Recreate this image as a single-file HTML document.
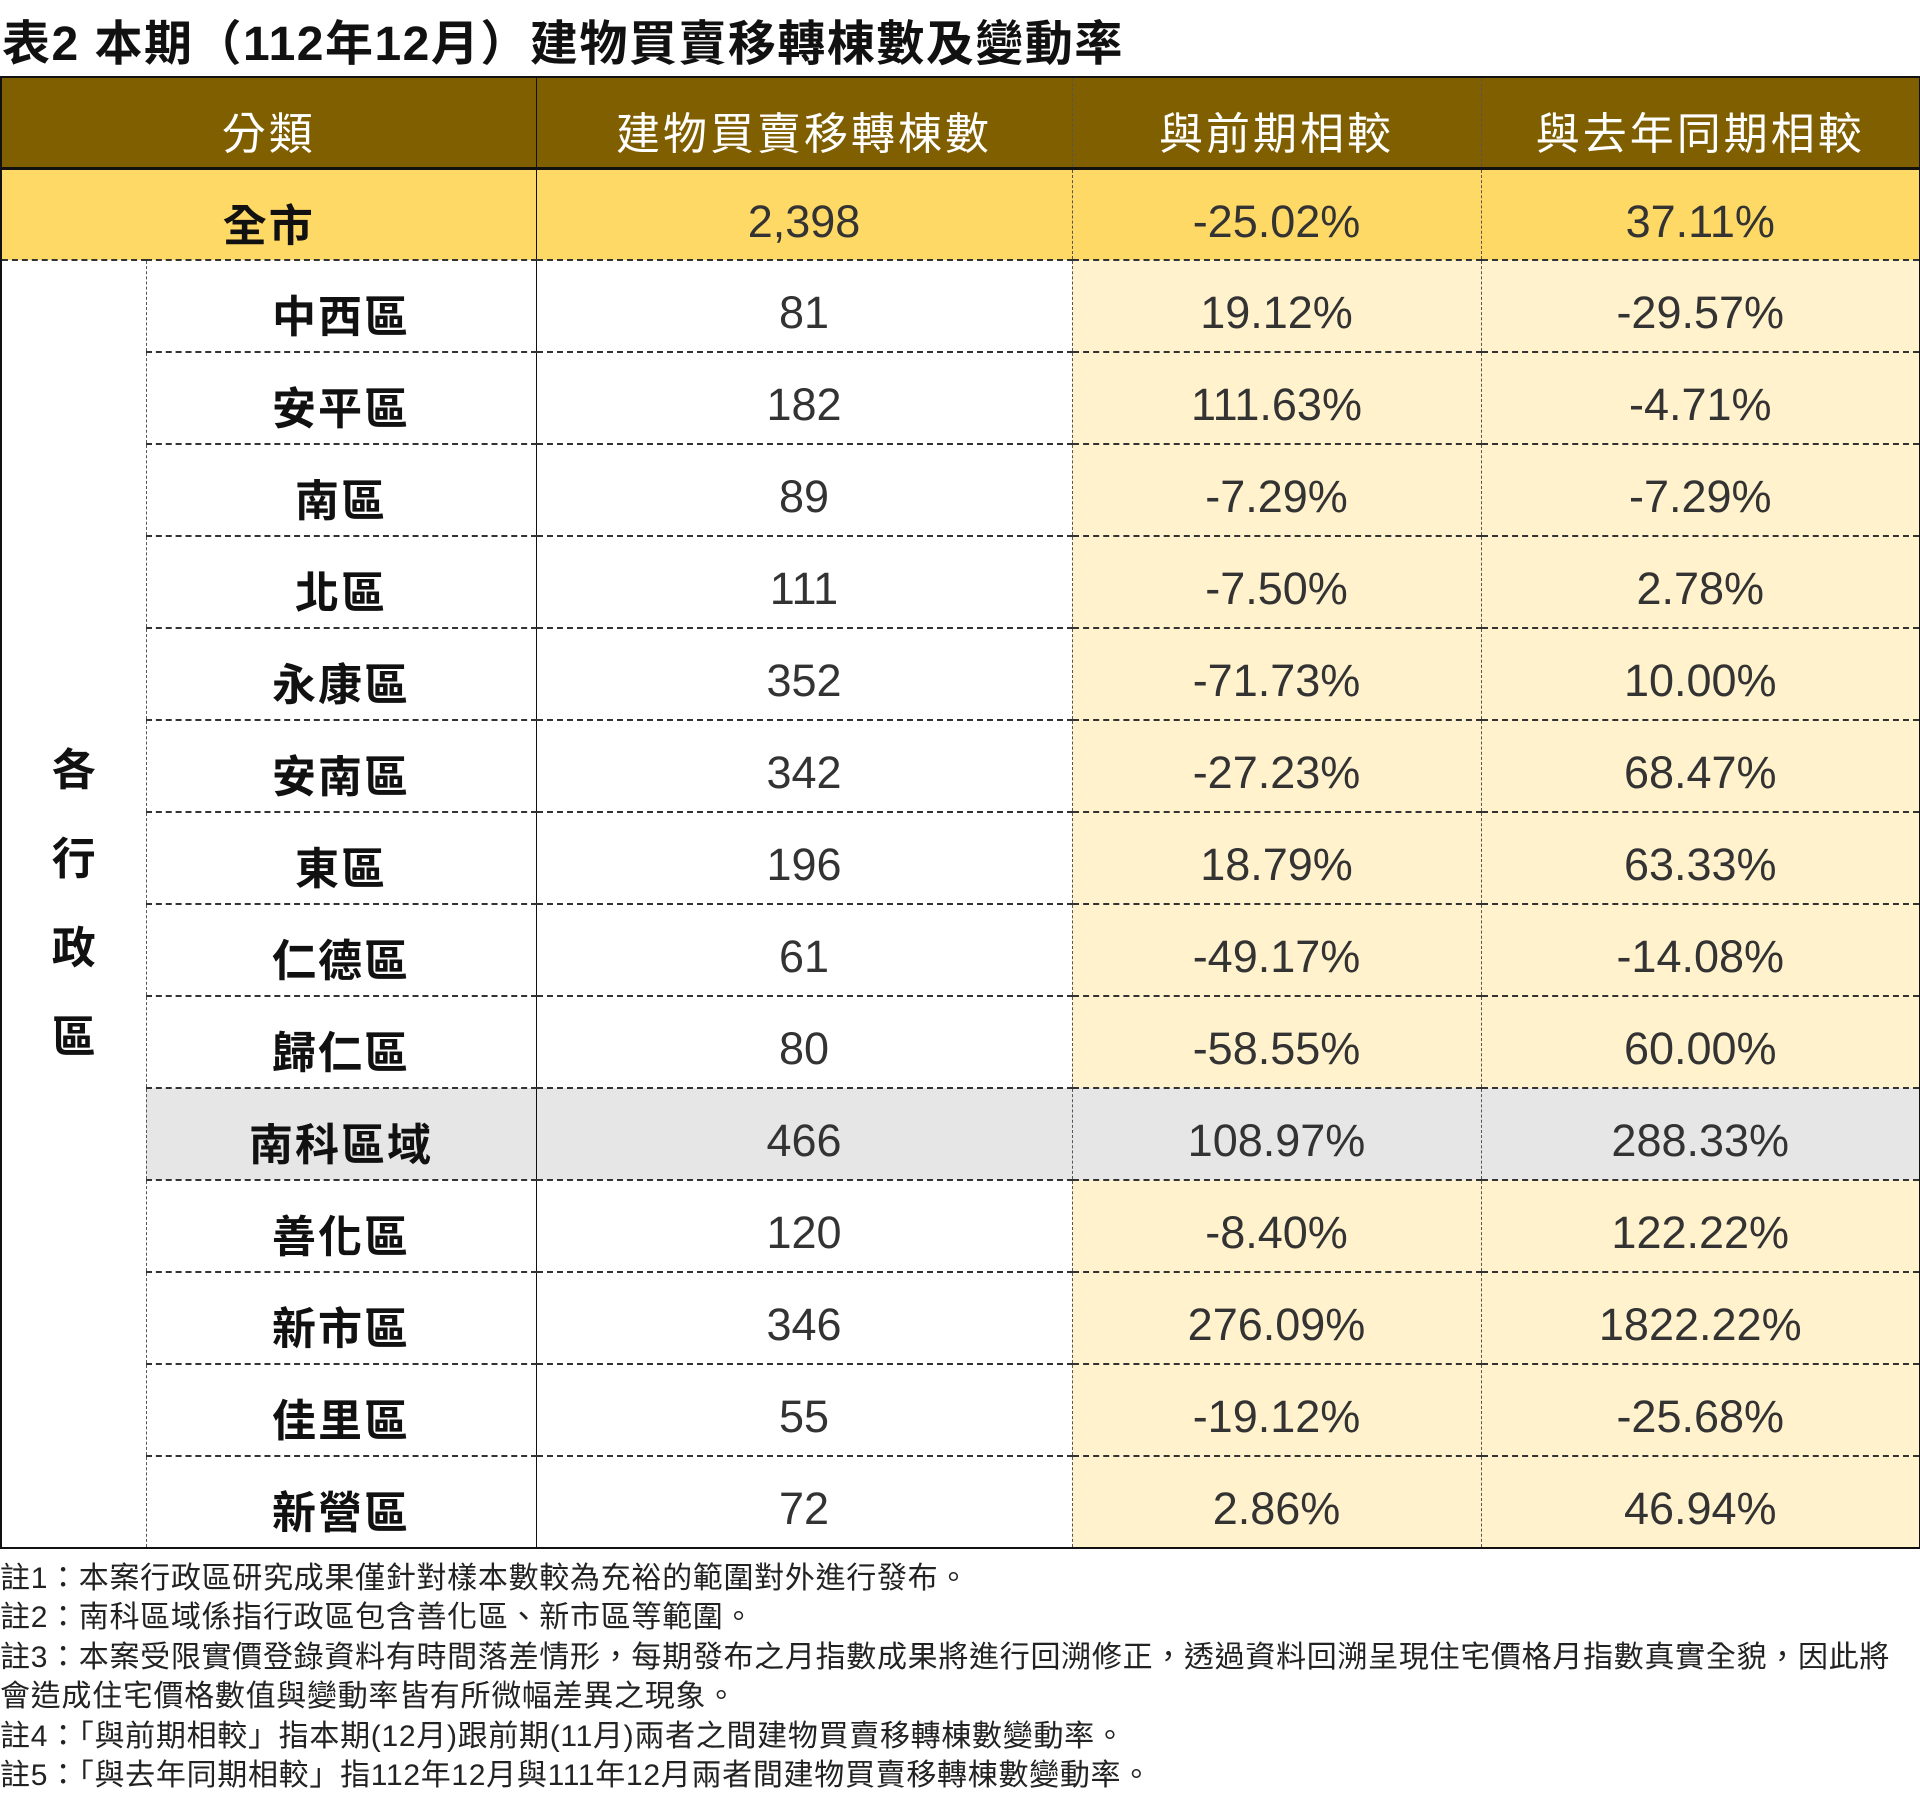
<!DOCTYPE html>
<html><head><meta charset="utf-8"><style>
body{margin:0;width:1920px;height:1793px;background:#fff;position:relative;overflow:hidden;font-family:"Liberation Sans","Noto Sans CJK TC",sans-serif}
.t{position:absolute;left:2px;top:4px;font-size:48px;font-weight:bold;color:#111;white-space:nowrap;letter-spacing:1.5px}
table{position:absolute;left:0;top:76px;border-collapse:collapse;table-layout:fixed}
td{padding:14px 0 0 0;text-align:center;font-size:45px;color:#333;border-bottom:2px dashed #333;border-left:1.5px dashed #555;height:76px;font-family:"Liberation Sans","Noto Sans CJK TC",sans-serif}
td.n{font-weight:bold;color:#111;font-size:44px;letter-spacing:2px}
td.c1{border-left:1.5px solid #111}
tr.h td{background:#7f5f00;color:#fff;font-size:44px;letter-spacing:3px;border-bottom:3px solid #111;height:75px}
tr.a td{background:#ffd966;height:75px}
td.y{background:#fff2cc}
tr.g td{background:#e7e6e6}
td.v{background:#fff!important;border-left:2px solid #111;font-weight:bold;font-size:44px;color:#111;line-height:89px;vertical-align:middle;padding:0}
.notes{position:absolute;left:0;top:1559px;font-size:30px;color:#222;line-height:39.4px;white-space:nowrap;letter-spacing:0.7px}
</style></head><body>
<div class="t">表2 本期（112年12月）建物買賣移轉棟數及變動率</div>
<table style="width:1919px;border:2px solid #111">
<colgroup><col style="width:145px"><col style="width:390px"><col style="width:536px"><col style="width:409px"><col style="width:439px"></colgroup>
<tr class="h"><td colspan="2" style="border-left:none">分類</td><td class="c1">建物買賣移轉棟數</td><td>與前期相較</td><td>與去年同期相較</td></tr>
<tr class="a"><td colspan="2" class="n" style="border-left:none">全市</td><td class="c1">2,398</td><td>-25.02%</td><td>37.11%</td></tr>
<tr><td rowspan="14" class="v" style="border-left:none;border-bottom:none">各<br>行<br>政<br>區</td><td class="n">中西區</td><td class="c1">81</td><td class="y">19.12%</td><td class="y">-29.57%</td></tr>
<tr><td class="n">安平區</td><td class="c1">182</td><td class="y">111.63%</td><td class="y">-4.71%</td></tr>
<tr><td class="n">南區</td><td class="c1">89</td><td class="y">-7.29%</td><td class="y">-7.29%</td></tr>
<tr><td class="n">北區</td><td class="c1">111</td><td class="y">-7.50%</td><td class="y">2.78%</td></tr>
<tr><td class="n">永康區</td><td class="c1">352</td><td class="y">-71.73%</td><td class="y">10.00%</td></tr>
<tr><td class="n">安南區</td><td class="c1">342</td><td class="y">-27.23%</td><td class="y">68.47%</td></tr>
<tr><td class="n">東區</td><td class="c1">196</td><td class="y">18.79%</td><td class="y">63.33%</td></tr>
<tr><td class="n">仁德區</td><td class="c1">61</td><td class="y">-49.17%</td><td class="y">-14.08%</td></tr>
<tr><td class="n">歸仁區</td><td class="c1">80</td><td class="y">-58.55%</td><td class="y">60.00%</td></tr>
<tr class="g"><td class="n">南科區域</td><td class="c1">466</td><td>108.97%</td><td>288.33%</td></tr>
<tr><td class="n">善化區</td><td class="c1">120</td><td class="y">-8.40%</td><td class="y">122.22%</td></tr>
<tr><td class="n">新市區</td><td class="c1">346</td><td class="y">276.09%</td><td class="y">1822.22%</td></tr>
<tr><td class="n">佳里區</td><td class="c1">55</td><td class="y">-19.12%</td><td class="y">-25.68%</td></tr>
<tr><td class="n">新營區</td><td class="c1">72</td><td class="y">2.86%</td><td class="y">46.94%</td></tr>
</table>
<div class="notes">註1：本案行政區研究成果僅針對樣本數較為充裕的範圍對外進行發布。<br>註2：南科區域係指行政區包含善化區、新市區等範圍。<br>註3：本案受限實價登錄資料有時間落差情形，每期發布之月指數成果將進行回溯修正，透過資料回溯呈現住宅價格月指數真實全貌，因此將<br>會造成住宅價格數值與變動率皆有所微幅差異之現象。<br>註4：「與前期相較」指本期(12月)跟前期(11月)兩者之間建物買賣移轉棟數變動率。<br>註5：「與去年同期相較」指112年12月與111年12月兩者間建物買賣移轉棟數變動率。</div>
</body></html>
